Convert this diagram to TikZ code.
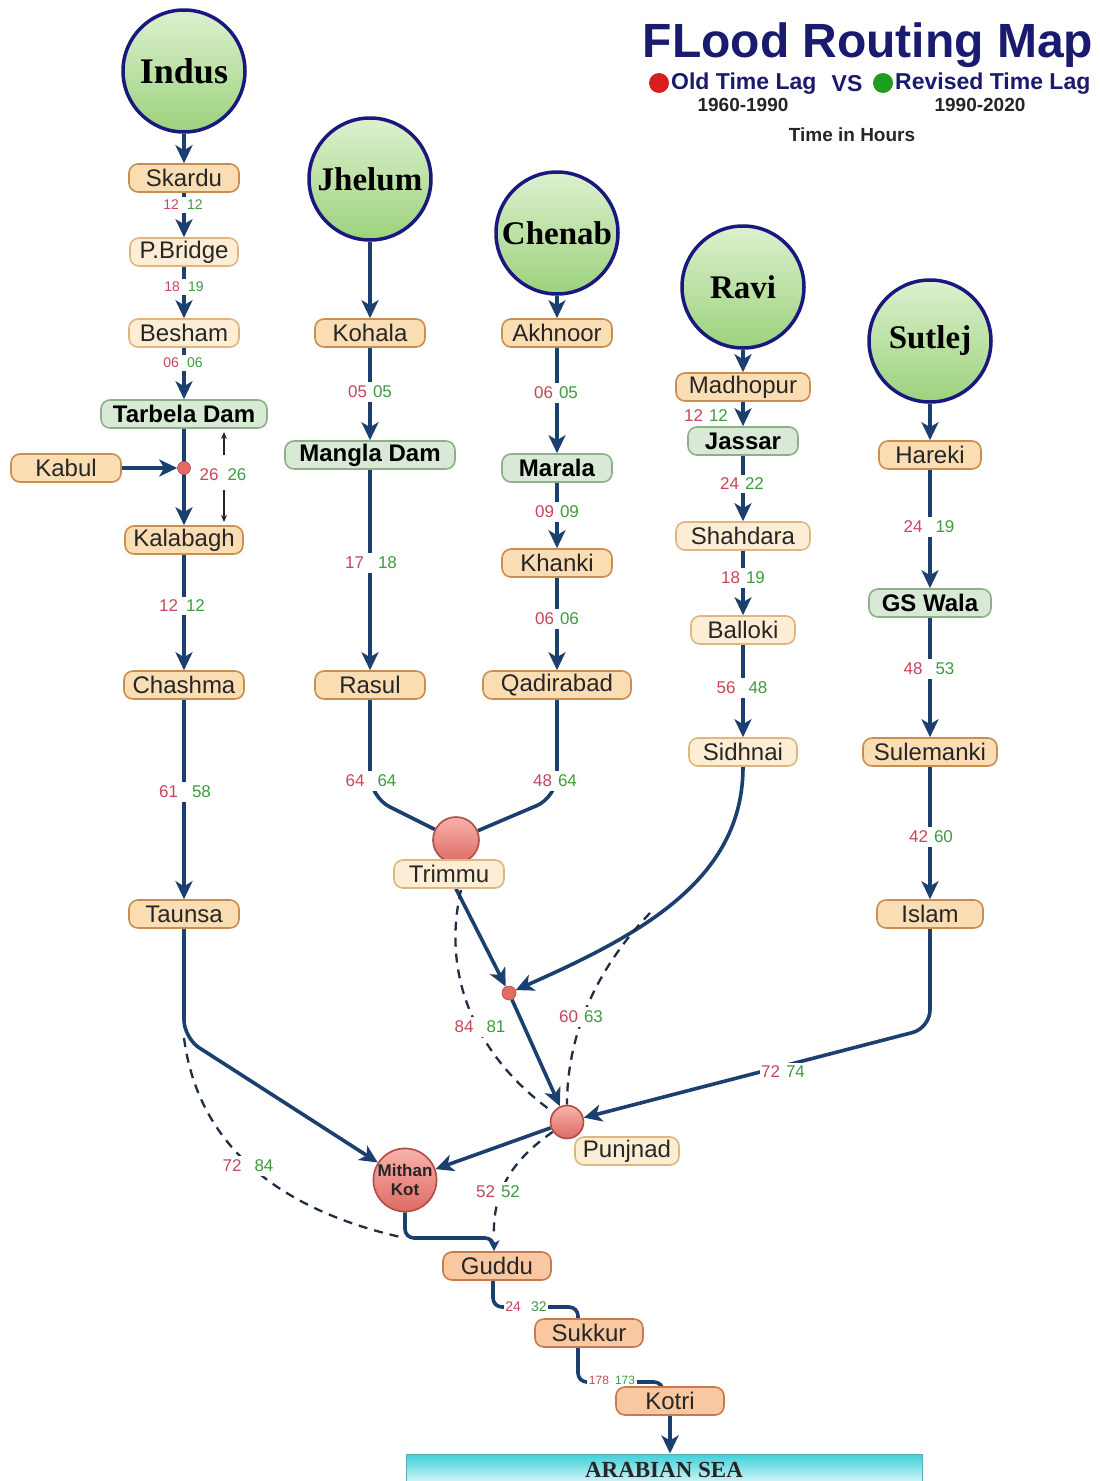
\documentclass[tikz,border=0pt]{standalone}
\usepackage{fontspec}
\setmainfont{Liberation Sans}
\newfontfamily\rivfont{Liberation Serif}
\usetikzlibrary{arrows.meta,backgrounds}

\definecolor{flow}{HTML}{1B3F6E}
\definecolor{dashc}{HTML}{1E2E44}
\definecolor{rivbd}{HTML}{18187E}
\definecolor{rivtop}{HTML}{DDF0CF}
\definecolor{rivbot}{HTML}{9CD27C}
\definecolor{titlec}{HTML}{1A1A6E}
\definecolor{oldc}{HTML}{C8455A}
\definecolor{newc}{HTML}{3E9B3E}
\definecolor{legred}{HTML}{D81E1E}
\definecolor{leggreen}{HTML}{1E9E1E}
\definecolor{orfill}{HTML}{FBDDB3}
\definecolor{orbd}{HTML}{C98F50}
\definecolor{ltfill}{HTML}{FDEDD4}
\definecolor{ltbd}{HTML}{DDB680}
\definecolor{grfill}{HTML}{D8EAD6}
\definecolor{grbd}{HTML}{8FAF8A}
\definecolor{btfill}{HTML}{F9C8A0}
\definecolor{btbd}{HTML}{C77A50}
\definecolor{rdtop}{HTML}{F7B3AB}
\definecolor{rdbot}{HTML}{DE6A64}
\definecolor{rdbd}{HTML}{B04C48}
\definecolor{rddot}{HTML}{E66A64}
\definecolor{seatop}{HTML}{3FD0D9}
\definecolor{seabot}{HTML}{E6FAFB}
\definecolor{seabd}{HTML}{5AAFB5}

\newcommand\fs[1]{\fontsize{#1}{#1}\selectfont}
\newcommand\tlag[3][6pt]{\textcolor{oldc}{#2}\hspace{#1}\textcolor{newc}{#3}}

\tikzset{
  flowline/.style={draw=flow, line width=3.6pt},
  flowarr/.style={flowline, -{Stealth[length=18pt,width=17pt,inset=5pt]}},
  smallarr/.style={flowline, -{Stealth[length=11pt,width=11pt,inset=3pt]}},
  dashflow/.style={draw=dashc, line width=2.3pt, dash pattern=on 9pt off 7pt},
  thinarr/.style={draw=black!85, line width=1.2pt, -{Stealth[length=7pt,width=6pt]}},
  river/.style={circle, draw=rivbd, line width=3.5pt, top color=rivtop, bottom color=rivbot,
    minimum size=122pt, inner sep=0pt, font=\rivfont\bfseries\fs{33}},
  stbase/.style={rectangle, rounded corners=9pt, minimum height=28pt, inner sep=0pt,
    line width=1.6pt, font=\fs{24}, text=black!85},
  orst/.style={stbase, draw=orbd, fill=orfill},
  ltst/.style={stbase, draw=ltbd, fill=ltfill},
  grst/.style={stbase, draw=grbd, fill=grfill, font=\bfseries\fs{24}, text=black},
  btst/.style={stbase, draw=btbd, fill=btfill},
  redc/.style={circle, draw=rdbd, line width=1.6pt, top color=rdtop, bottom color=rdbot, inner sep=0pt},
  jdot/.style={circle, fill=rddot, draw=rdbd, line width=0.6pt, inner sep=0pt, minimum size=13pt},
  tl/.style={fill=white, inner xsep=1.5pt, inner ysep=3.5pt, font=\fs{17}},
  tlsm/.style={tl, font=\fs{14}},
  tlxs/.style={tl, inner ysep=2pt, font=\fs{12}},
  sea/.style={rectangle, draw=seabd, line width=1pt, top color=seatop, bottom color=seabot,
    minimum width=516pt, minimum height=32pt, inner sep=0pt, font=\rivfont\bfseries\fs{23}, text=black!85},
}

\begin{document}
\begin{tikzpicture}[x=1pt,y=-1pt]
\useasboundingbox (0,0) rectangle (1100,1481);

% ---- title & legend ----
\node[font=\bfseries\fs{48}, text=titlec] (title) at (868,45) {FLood Routing Map};
\node[circle, fill=legred, minimum size=20pt, inner sep=0pt] (rdot) at (659,83) {};
\node[anchor=west, inner sep=0pt, font=\bfseries\fs{23}, text=titlec] (oldt) at (671,84) {Old Time Lag};
\node[inner sep=0pt, font=\bfseries\fs{23}, text=titlec] (vs) at (847,84) {VS};
\node[circle, fill=leggreen, minimum size=20pt, inner sep=0pt] (gdot) at (883,83) {};
\node[anchor=west, inner sep=0pt, font=\bfseries\fs{23}, text=titlec] (newt) at (895,84) {Revised Time Lag};
\node[font=\bfseries\fs{19}, text=black!85] (yold) at (743,105) {1960-1990};
\node[font=\bfseries\fs{19}, text=black!85] (ynew) at (980,105) {1990-2020};
\node[font=\bfseries\fs{19}, text=black!85] (units) at (852,135) {Time in Hours};

% ---- rivers ----
\node[river, font=\rivfont\bfseries\fs{36}] (Indus) at (184,71) {Indus};
\node[river] (Jhelum) at (370,179) {Jhelum};
\node[river] (Chenab) at (557,233) {Chenab};
\node[river] (Ravi) at (743,287) {Ravi};
\node[river] (Sutlej) at (930,341) {Sutlej};

% ---- Indus column ----
\node[orst, minimum width=110pt] (Skardu) at (184,178) {Skardu};
\node[ltst, minimum width=108pt] (PBridge) at (184,252) {P.Bridge};
\node[ltst, minimum width=110pt] (Besham) at (184,333) {Besham};
\node[grst, minimum width=166pt] (Tarbela) at (184,414) {Tarbela Dam};
\node[orst, minimum width=110pt] (Kabul) at (66,468) {Kabul};
\node[orst, minimum width=118pt] (Kalabagh) at (184,540) {Kalabagh};
\node[orst, minimum width=120pt] (Chashma) at (184,685) {Chashma};
\node[orst, minimum width=110pt] (Taunsa) at (184,914) {Taunsa};

% ---- Jhelum column ----
\node[orst, minimum width=110pt] (Kohala) at (370,333) {Kohala};
\node[grst, minimum width=170pt] (Mangla) at (370,455) {Mangla Dam};
\node[orst, minimum width=110pt] (Rasul) at (370,685) {Rasul};
\node[redc, minimum size=46pt] (TrimmuC) at (456,840) {};
\node[ltst, minimum width=110pt] (Trimmu) at (449,874) {Trimmu};

% ---- Chenab column ----
\node[orst, minimum width=110pt] (Akhnoor) at (557,333) {Akhnoor};
\node[grst, minimum width=110pt] (Marala) at (557,468) {Marala};
\node[orst, minimum width=110pt] (Khanki) at (557,563) {Khanki};
\node[orst, minimum width=148pt] (Qadirabad) at (557,685) {Qadirabad};

% ---- Ravi column ----
\node[orst, minimum width=134pt] (Madhopur) at (743,387) {Madhopur};
\node[grst, minimum width=110pt] (Jassar) at (743,441) {Jassar};
\node[ltst, minimum width=134pt] (Shahdara) at (743,536) {Shahdara};
\node[ltst, minimum width=104pt] (Balloki) at (743,630) {Balloki};
\node[ltst, minimum width=108pt] (Sidhnai) at (743,752) {Sidhnai};

% ---- Sutlej column ----
\node[orst, minimum width=102pt] (Hareki) at (930,455) {Hareki};
\node[grst, minimum width=122pt] (GSWala) at (930,603) {GS Wala};
\node[orst, minimum width=134pt] (Sulemanki) at (930,752) {Sulemanki};
\node[orst, minimum width=106pt] (Islam) at (930,914) {Islam};

% ---- confluences & lower Indus ----
\node[jdot] (J1) at (184,468) {};
\node[jdot, minimum size=14pt] (J2) at (509,993) {};
\node[redc, minimum size=33pt] (PunjC) at (567,1122) {};
\node[ltst, minimum width=104pt] (Punj) at (627,1151) {Punjnad};
\node[redc, minimum size=62pt, font=\bfseries\fontsize{17}{19}\selectfont, align=center, text=black!85] (Mithan) at (405,1180) {Mithan\\Kot};
\node[btst, minimum width=108pt] (Guddu) at (497,1266) {Guddu};
\node[btst, minimum width=108pt] (Sukkur) at (589,1333) {Sukkur};
\node[btst, minimum width=108pt] (Kotri) at (670,1401) {Kotri};
\node[sea] (sea) at (664,1470) {ARABIAN SEA};

% ---- helper coordinates ----
\coordinate (kR) at (370,797);
\coordinate (kQ) at (557,797);
\coordinate (iC) at (930,1028);
\coordinate (tC) at (184,1038);
\coordinate (mg1) at (405,1238);
\coordinate (mg2) at (494,1238);
\coordinate (gs1) at (493,1307);
\coordinate (gs2) at (578,1307);
\coordinate (sk1) at (578,1382);
\coordinate (sk2) at (663,1382);
\coordinate (dT) at (461,890);
\coordinate (dS) at (650,913);
\coordinate (ua1) at (224,455);
\coordinate (ua2) at (224,432);
\coordinate (da1) at (224,490);
\coordinate (da2) at (224,522);

\begin{pgfonlayer}{background}
\fill[white] (0,0) rectangle (1100,1481);
% Indus
\draw[flowarr] (Indus) -- (Skardu);
\draw[flowarr] (Skardu) -- (PBridge);
\draw[flowarr] (PBridge) -- (Besham);
\draw[flowarr] (Besham) -- (Tarbela);
\draw[flowarr] (Tarbela) -- (Kalabagh);
\draw[flowarr] (Kabul) -- (J1);
\draw[flowarr] (Kalabagh) -- (Chashma);
\draw[flowarr] (Chashma) -- (Taunsa);
% Jhelum
\draw[flowarr] (Jhelum) -- (Kohala);
\draw[flowarr] (Kohala) -- (Mangla);
\draw[flowarr] (Mangla) -- (Rasul);
\draw[flowline, rounded corners=22pt] (Rasul) -- (kR) -- (TrimmuC);
% Chenab
\draw[flowarr] (Chenab) -- (Akhnoor);
\draw[flowarr] (Akhnoor) -- (Marala);
\draw[flowarr] (Marala) -- (Khanki);
\draw[flowarr] (Khanki) -- (Qadirabad);
\draw[flowline, rounded corners=22pt] (Qadirabad) -- (kQ) -- (TrimmuC);
% Ravi
\draw[flowarr] (Ravi) -- (Madhopur);
\draw[flowarr] (Madhopur) -- (Jassar);
\draw[flowarr] (Jassar) -- (Shahdara);
\draw[flowarr] (Shahdara) -- (Balloki);
\draw[flowarr] (Balloki) -- (Sidhnai);
\draw[flowarr] (Sidhnai) .. controls (743,880) and (640,935) .. (J2);
% Sutlej
\draw[flowarr] (Sutlej) -- (Hareki);
\draw[flowarr] (Hareki) -- (GSWala);
\draw[flowarr] (GSWala) -- (Sulemanki);
\draw[flowarr] (Sulemanki) -- (Islam);
\draw[flowarr, rounded corners=18pt] (Islam) -- (iC) -- (PunjC);
% confluences
\draw[flowarr] (Trimmu.south -| TrimmuC) -- (J2);
\draw[flowarr] (J2) -- (PunjC);
\draw[flowarr] (PunjC) -- (Mithan);
\draw[flowarr, rounded corners=18pt] (Taunsa) -- (tC) -- (Mithan);
\draw[smallarr, rounded corners=9pt] (Mithan) -- (mg1) -- (mg2) -- (Guddu.north -| mg2);
\draw[flowline, rounded corners=9pt] (Guddu.south -| gs1) -- (gs1) -- (gs2) -- (Sukkur.north -| gs2);
\draw[flowline, rounded corners=9pt] (Sukkur.south -| sk1) -- (sk1) -- (sk2) -- (Kotri.north -| sk2);
\draw[flowarr] (Kotri) -- (sea.north -| Kotri);
% dashed (revised) routes
\draw[dashflow] (dT) .. controls (440,980) and (480,1060) .. (PunjC);
\draw[dashflow] (dS) .. controls (600,965) and (567,1030) .. (PunjC);
\draw[dashflow] (tC) .. controls (200,1160) and (300,1215) .. (mg1);
\draw[dashflow] (PunjC) .. controls (512,1160) and (492,1192) .. (mg2);
% small arrows beside 26 26
\draw[thinarr] (ua1) -- (ua2);
\draw[thinarr] (da1) -- (da2);
\end{pgfonlayer}

% ---- time-lag labels ----
\node[tlsm] (l1) at (183,205) {\tlag[8pt]{12}{12}};
\node[tlsm] (l2) at (184,287) {\tlag[8pt]{18}{19}};
\node[tlsm] (l3) at (183,363) {\tlag[8pt]{06}{06}};
\node[tl] (l4) at (223,475) {\tlag[9pt]{26}{26}};
\node[tl] (l5) at (182,606) {\tlag[8pt]{12}{12}};
\node[tl] (l6) at (185,792) {\tlag[14pt]{61}{58}};
\node[tl] (l7) at (370,392) {\tlag{05}{05}};
\node[tl] (l8) at (371,563) {\tlag[14pt]{17}{18}};
\node[tl] (l9) at (371,781) {\tlag[13pt]{64}{64}};
\node[tl] (l10) at (555,781) {\tlag{48}{64}};
\node[tl] (l11) at (556,393) {\tlag{06}{05}};
\node[tl] (l12) at (557,512) {\tlag{09}{09}};
\node[tl] (l13) at (557,619) {\tlag{06}{06}};
\node[tl] (l14) at (706,416) {\tlag{12}{12}};
\node[tl] (l15) at (742,484) {\tlag{24}{22}};
\node[tl] (l16) at (743,578) {\tlag{18}{19}};
\node[tl] (l17) at (742,688) {\tlag[13pt]{56}{48}};
\node[tl] (l18) at (929,527) {\tlag[13pt]{24}{19}};
\node[tl] (l19) at (929,669) {\tlag[13pt]{48}{53}};
\node[tl] (l20) at (931,837) {\tlag{42}{60}};
\node[tl] (l21) at (480,1027) {\tlag[13pt]{84}{81}};
\node[tl] (l22) at (581,1017) {\tlag{60}{63}};
\node[tl] (l23) at (783,1072) {\tlag{72}{74}};
\node[tl] (l24) at (248,1166) {\tlag[13pt]{72}{84}};
\node[tl] (l25) at (498,1192) {\tlag{52}{52}};
\node[tlsm, inner ysep=2pt] (l26) at (526,1307) {\tlag[10pt]{24}{32}};
\node[tlxs] (l27) at (612,1380) {\tlag{178}{173}};
\end{tikzpicture}
\end{document}
